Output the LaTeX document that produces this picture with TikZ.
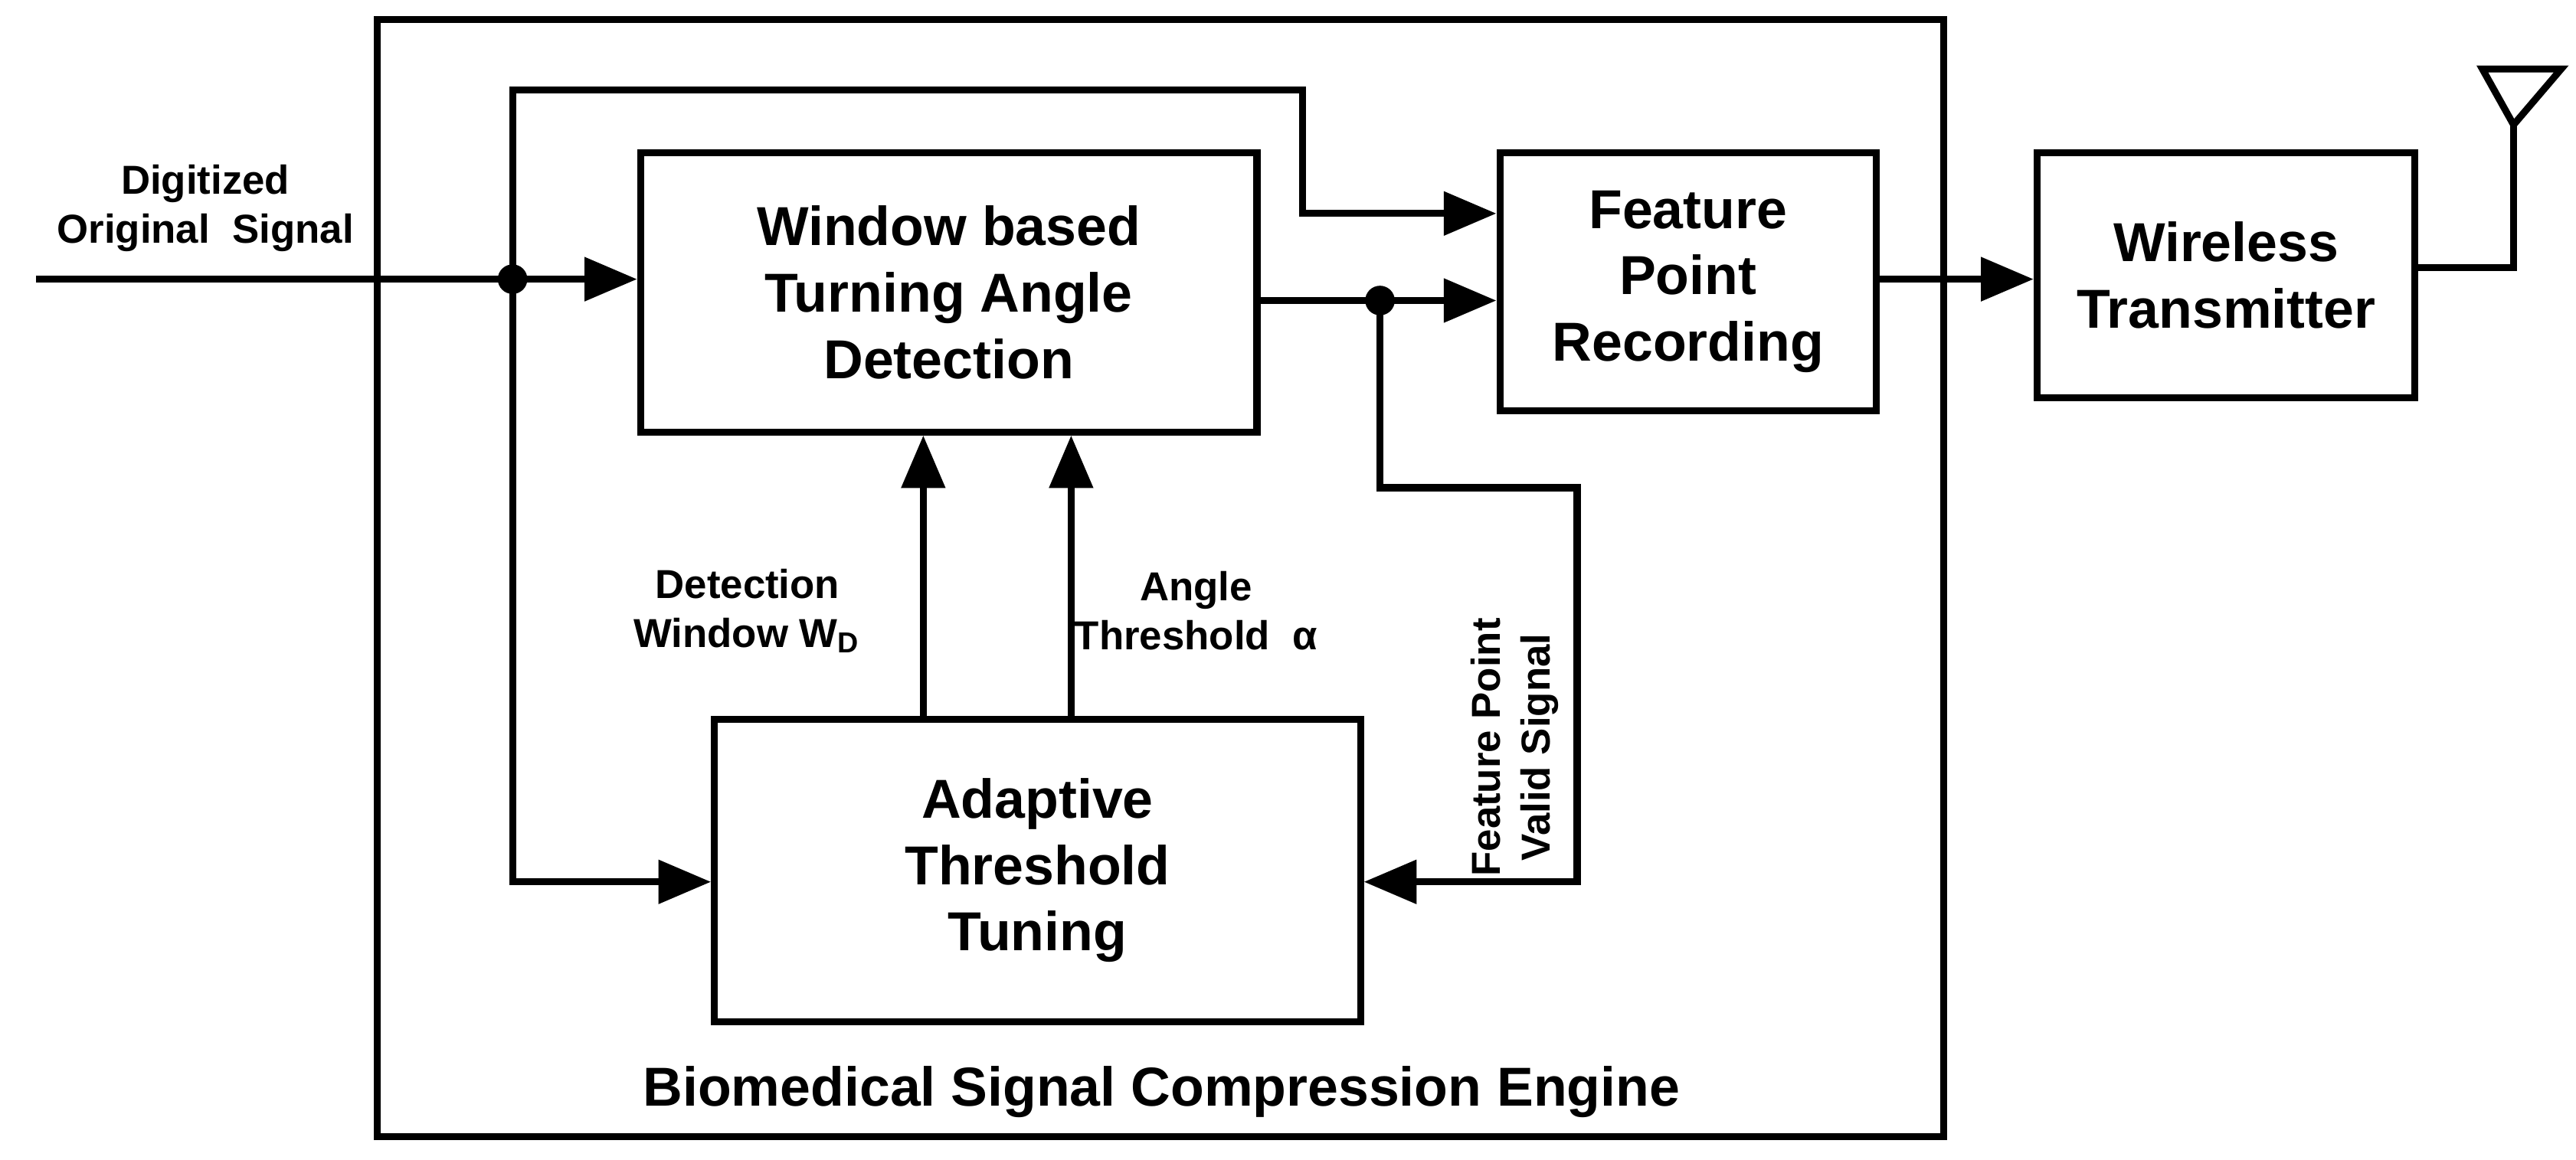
\documentclass[tikz,border=0pt]{standalone}
\usepackage{fontspec}
\setmainfont{Liberation Sans}
\usetikzlibrary{arrows.meta}
\begin{document}
\begin{tikzpicture}[x=0.01cm, y=-0.01cm, font=\bfseries, line width=1.2pt]
%% styles
\tikzstyle{arc}=[-{Triangle[length=0.32cm,width=0.26cm]}]
\tikzstyle{block}=[draw, align=center, font=\fontsize{9.5}{11.5}\selectfont\bfseries]
\tikzstyle{lab}=[align=center, font=\fontsize{7}{8.5}\selectfont\bfseries]
\tikzstyle{dot}=[circle, fill, inner sep=0pt, minimum size=0.18cm]
\useasboundingbox (0,0) rectangle (1568,706);
%% blocks
\node[draw, minimum width=9.53cm, minimum height=6.8cm] at (706.5,352) (engine) {};
\node[block, minimum width=3.75cm, minimum height=1.7cm] at (577.5,178) (win) {Window based\\Turning Angle\\Detection};
\node[block, minimum width=2.29cm, minimum height=1.57cm] at (1027.5,171.5) (fpr) {Feature\\Point\\Recording};
\node[block, minimum width=2.3cm, minimum height=1.49cm] at (1355,167.5) (wt) {Wireless\\Transmitter};
\node[block, minimum width=3.93cm, minimum height=1.84cm] at (631.5,530) (ada) {Adaptive\\Threshold\\Tuning};
%% labels
\node[block, draw=none] at (707,665) (title) {Biomedical Signal Compression Engine};
\node[lab] at (125,127) (inlab) {Digitized\\Original~~Signal};
\node[lab] at (455,372) (wdlab) {Detection\\Window W\textsubscript{D}};
\node[lab] at (728,372) (alab) {Angle\\Threshold~~α};
\node[lab, rotate=90] at (922,455) (vlab) {Feature Point\\Valid Signal};
%% coordinates
\coordinate (in) at (22,170);
\node[dot] at (312,170) (d1) {};
\coordinate (t1) at (312,55);
\coordinate (t2) at (793,55);
\coordinate (t3) at (793,130);
\coordinate (l1) at (312,537);
\node[dot] at (840,183) (d2) {};
\coordinate (c1) at (840,297);
\coordinate (c2) at (960,297);
\coordinate (c3) at (960,537);
\coordinate (u1) at (562,438);
\coordinate (u2) at (652,438);
\coordinate (o1) at (1142,170);
\coordinate (a1) at (1530,163);
\coordinate (a2) at (1530,76);
\coordinate (a3) at (1511,42);
\coordinate (a4) at (1559,42);
%% connectors
\draw (in) -- (d1.center);
\draw[arc] (d1.center) -- (win.west |- d1);
\draw[arc] (d1.center) -- (t1) -- (t2) -- (t3) -- (fpr.west |- t3);
\draw[arc] (d1.center) -- (l1) -- (ada.west |- l1);
\draw (win.east |- d2) -- (d2.center);
\draw[arc] (d2.center) -- (fpr.west |- d2);
\draw[arc] (d2.center) -- (c1) -- (c2) -- (c3) -- (ada.east |- c3);
\draw[arc] (u1) -- (u1 |- win.south);
\draw[arc] (u2) -- (u2 |- win.south);
\draw[arc] (o1) -- (wt.west |- o1);
\draw (wt.east |- a1) -- (a1) -- (a2);
\draw (a2) -- (a3) -- (a4) -- cycle;
\end{tikzpicture}
\end{document}
